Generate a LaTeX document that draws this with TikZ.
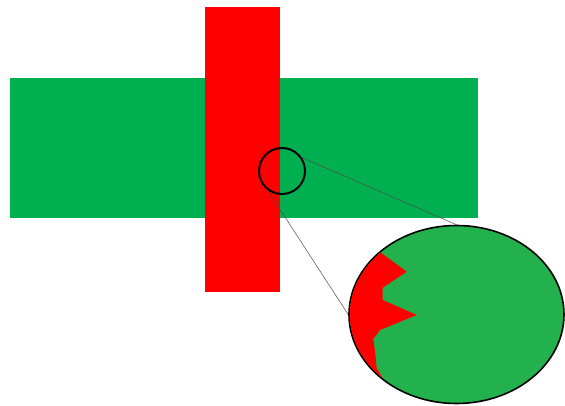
\documentclass[tikz,border=0pt]{standalone}
\usepackage{tikz}
\usetikzlibrary{shapes.geometric}
\definecolor{colBar}{RGB}{0,176,80}
\definecolor{colZoom}{RGB}{34,177,76}
\definecolor{colCut}{RGB}{255,0,0}

\begin{document}
\begin{tikzpicture}[x=1pt, y=-1pt,
  lens/.style={circle, draw, line width=2pt, minimum size=46pt, inner sep=0pt},
  zoomview/.style={ellipse, draw, line width=1.6pt, fill=colZoom,
                   minimum width=215pt, minimum height=178pt, inner sep=0pt},
  guide/.style={draw=black!70, line width=0.5pt},
]
\useasboundingbox (0,0) rectangle (565,406);
\fill[colBar] (10,78) rectangle (478,218);
\fill[colCut] (205,7) rectangle (280,292);

\node[lens] (lens) at (282,171) {};
\node[zoomview] (zoom) at (456.5,314.5) {};

% red edge seen through the zoom
\begin{scope}
  \clip (zoom.center) ellipse [x radius=106.7pt, y radius=88.2pt];
  \fill[colCut] (378,248) -- (381.7,253.3) -- (406.7,271.7) -- (382.7,287.7)
    -- (382.7,300) -- (416.7,315) -- (380,330) -- (373.3,339) -- (375,351.7)
    -- (376.7,368.3) -- (382.7,378.3) -- (386,386) -- (330,386) -- (330,248) -- cycle;
\end{scope}

\draw[guide] (lens.34) -- (zoom.north);
\draw[guide] (lens.233) -- (zoom.west);
\end{tikzpicture}
\end{document}
